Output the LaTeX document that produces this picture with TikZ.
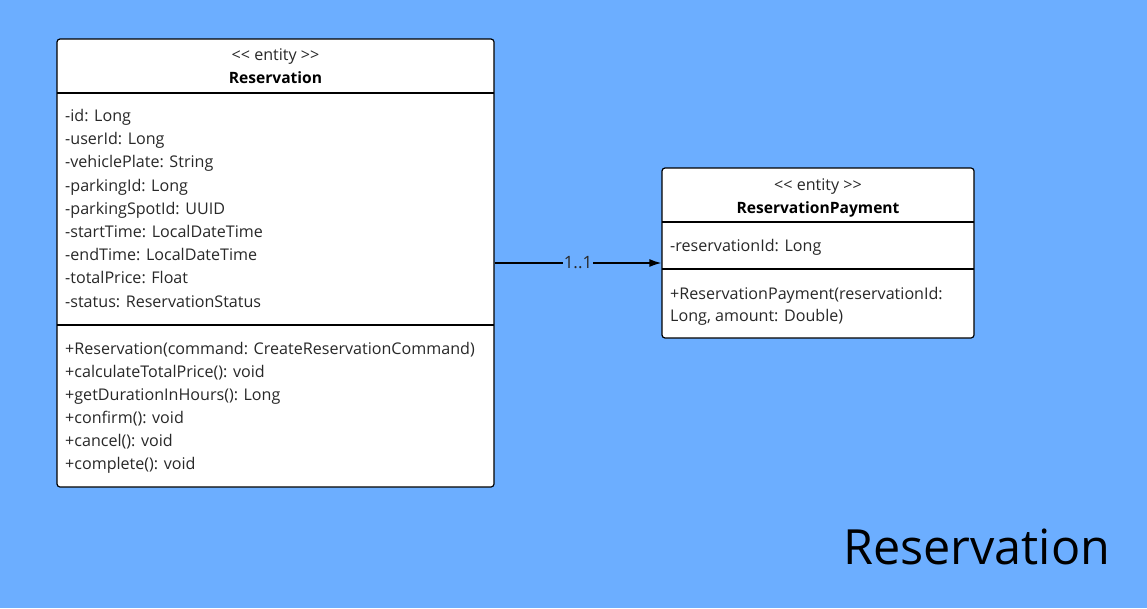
\documentclass[tikz,border=0pt]{standalone}
\usepackage{fontspec}
\setmainfont{Open Sans}
\usetikzlibrary{arrows.meta,positioning}
\definecolor{bgblue}{RGB}{108,174,255}
\definecolor{ink}{RGB}{40,40,40}
\tikzset{
  classbox/.style={draw=black,fill=white,line width=1.2pt,rounded corners=3pt,inner sep=0pt},
  member/.style={anchor=base west,inner sep=0pt,text=ink,font=\fontsize{16.1}{18}\selectfont},
  stereo/.style={anchor=base,inner sep=0pt,text=ink,font=\fontsize{16.1}{18}\selectfont},
  classname/.style={anchor=base,inner sep=0pt,font=\fontsize{15.6}{18}\selectfont\bfseries},
  assoc/.style={line width=1.5pt,-{Latex[length=12pt,width=8pt]}}
}
\begin{document}
\begin{tikzpicture}[x=1pt,y=-1pt]
      \fill[bgblue] (0,0) rectangle (1147,608);
      \useasboundingbox (0,0) rectangle (1147,608);

      % Reservation class
      \node[classbox,minimum width=437pt,minimum height=448pt] (res) at (275.5,263) {};
      \draw[line width=1.2pt] (57,93) -- (494,93);
      \draw[line width=1.2pt] (57,325) -- (494,325);
      \node[stereo] (resstereo) at (275.5,60) {<{}< entity >{}>};
      \node[classname] (resname) at (275.5,83) {Reservation};

      \foreach \t [count=\i from 0] in {-id: Long,-userId: Long,-vehiclePlate: String,
          -parkingId: Long,-parkingSpotId: UUID,-startTime: LocalDateTime,
          -endTime: LocalDateTime,-totalPrice: Float,-status: ReservationStatus}
        \node[member] (resattr\i) at (65,121.5+23.2*\i) {\t};

      \foreach \t [count=\i from 0] in {+Reservation(command: CreateReservationCommand),
          +calculateTotalPrice(): void,+getDurationInHours(): Long,
          +confirm(): void,+cancel(): void,+complete(): void}
        \node[member] (resop\i) at (65,354.5+23*\i) {\t};

      % ReservationPayment class
      \node[classbox,minimum width=312pt,minimum height=170pt] (pay) at (818,253) {};
      \draw[line width=1.2pt] (662,222) -- (974,222);
      \draw[line width=1.2pt] (662,269) -- (974,269);
      \node[stereo] (paystereo) at (818,190) {<{}< entity >{}>};
      \node[classname] (payname) at (818,213) {ReservationPayment};
      \node[member] (payattr0) at (670,251.5) {-reservationId: Long};
      \node[member] (payop0) at (670,299.5) {+ReservationPayment(reservationId:};
      \node[member] (payop1) at (670,321.5) {Long, amount: Double)};

      % association
      \draw[assoc] (res.east) -- (res.east -| pay.west)
        node[pos=0.5,fill=bgblue,inner sep=1pt,text=ink,font=\fontsize{17}{19}\selectfont] (mult) {1..1};

      \node[anchor=base west,inner sep=0pt,font=\fontsize{48.5}{52}\selectfont] (title) at (843,564) {Reservation};
    \end{tikzpicture}
\end{document}
